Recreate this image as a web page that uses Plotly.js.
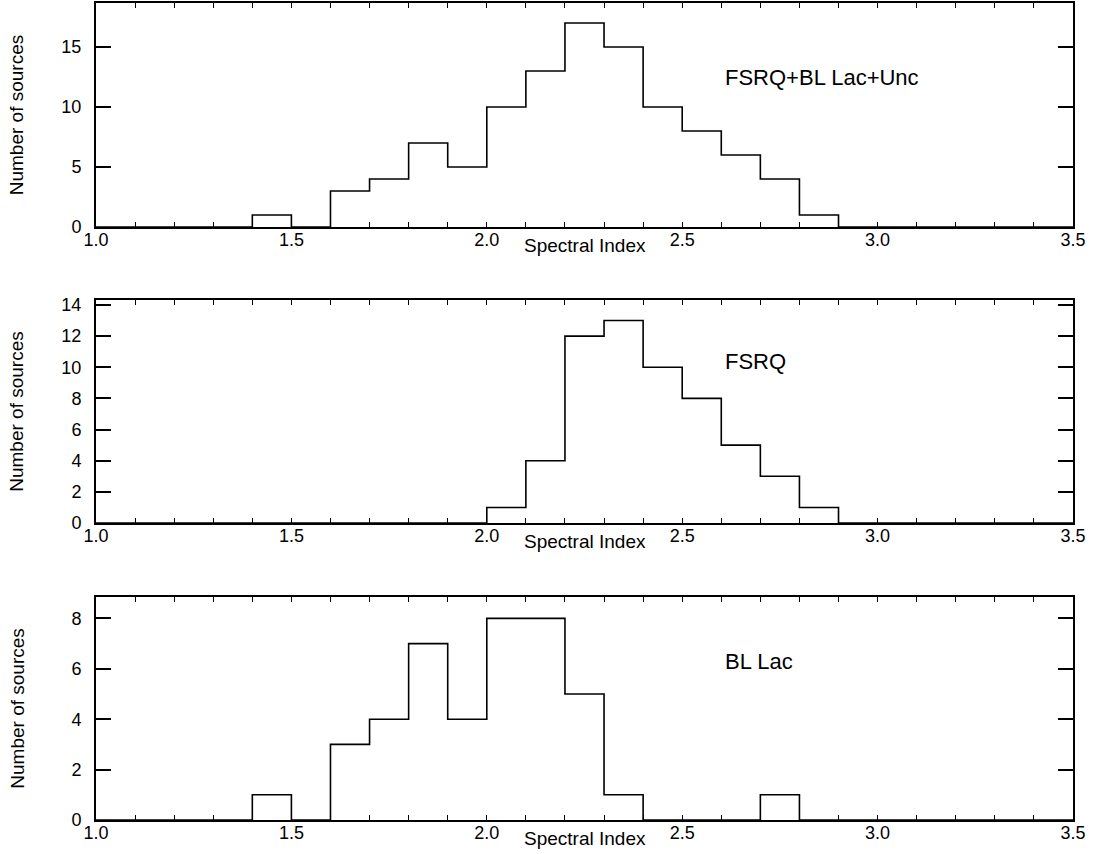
<!DOCTYPE html>
<html>
<head>
<meta charset="utf-8">
<script src="https://cdn.plot.ly/plotly-3.0.1.min.js"></script>
<style>html,body{margin:0;padding:0;background:#fff;}#chart{width:1093px;height:854px;}</style>
</head>
<body>
<div id="chart"></div>
<script>
// Bin edges of spectral index (left edges of 0.1-wide bins, plus final edge)
const binEdges = [1.0,1.1,1.2,1.3,1.4,1.5,1.6,1.7,1.8,1.9,2.0,2.1,2.2,2.3,2.4,2.5,2.6,2.7,2.8,2.9,3.0,3.1,3.2,3.3,3.4,3.5];
// Counts per bin (25 bins), FSRQ+BL Lac+Unc
const countsAll   = [0,0,0,0,1,0,3,4,7,5,10,13,17,15,10,8,6,4,1,0,0,0,0,0,0];
// FSRQ
const countsFSRQ  = [0,0,0,0,0,0,0,0,0,0,1,4,12,13,10,8,5,3,1,0,0,0,0,0,0];
// BL Lac
const countsBLLac = [0,0,0,0,1,0,3,4,7,4,8,8,5,1,0,0,0,1,0,0,0,0,0,0,0];

const panelLabels = ["FSRQ+BL Lac+Unc", "FSRQ", "BL Lac"];
const xTickVals = [1.0,1.5,2.0,2.5,3.0,3.5];
const xTickText = ["1.0","1.5","2.0","2.5","3.0","3.5"];
const xTitle = "Spectral Index";
const yTitle = "Number of sources";

const font = "Liberation Sans, Arial, Helvetica, sans-serif";

function stepTrace(counts, xa, ya) {
  return {
    type: 'scatter', mode: 'lines',
    x: binEdges,
    y: counts.concat([0]),
    line: {shape: 'hv', color: '#000', width: 1.6},
    xaxis: xa, yaxis: ya, hoverinfo: 'x+y', showlegend: false
  };
}

const data = [
  stepTrace(countsAll, 'x', 'y'),
  stepTrace(countsFSRQ, 'x2', 'y2'),
  stepTrace(countsBLLac, 'x3', 'y3')
];

function xAxis(anchor) {
  return {
    anchor: anchor, range: [1.0, 3.5], domain: [0, 1],
    tickvals: xTickVals, ticktext: xTickText,
    ticks: 'inside', ticklen: 5, tickwidth: 1, tickcolor: '#000',
    minor: {dtick: 0.1, tick0: 1.0, ticks: 'inside', ticklen: 5, tickwidth: 1, tickcolor: '#000', showgrid: false},
    showline: true, linewidth: 2, linecolor: '#000', mirror: 'allticks',
    showgrid: false, zeroline: false,
    tickfont: {family: font, size: 18, color: '#000'},
    ticklabelstandoff: -5
  };
}
function yAxis(anchor, domain, top, dtick, standoff) {
  return {
    anchor: anchor, domain: domain, range: [0, top], dtick: dtick, tick0: 0,
    ticks: 'inside', ticklen: 15, tickwidth: 2, tickcolor: '#000',
    showline: true, linewidth: 2, linecolor: '#000', mirror: 'allticks',
    showgrid: false, zeroline: false,
    tickfont: {family: font, size: 18, color: '#000'},
    ticklabelstandoff: 9,
    title: {text: yTitle, font: {family: font, size: 19, color: '#000'}, standoff: standoff}
  };
}

const annFont = {family: font, size: 22, color: '#000'};
const titleFont = {family: font, size: 19, color: '#000'};

const layout = {
  width: 1093, height: 854,
  margin: {l: 96, r: 20, t: 3, b: 34},
  paper_bgcolor: '#fff', plot_bgcolor: '#fff',
  showlegend: false,
  xaxis: xAxis('y'),
  xaxis2: xAxis('y2'),
  xaxis3: xAxis('y3'),
  yaxis: yAxis('x', [0.7258, 1.0], 18.67, 5, 33),
  yaxis2: yAxis('x2', [0.3635, 0.6365], 14.32, 2, 33),
  yaxis3: yAxis('x3', [0.0, 0.273], 8.85, 2, 42),
  annotations: [
    {xref: 'x', yref: 'y', x: 2.604, y: 12.5, text: panelLabels[0], showarrow: false, xanchor: 'left', yanchor: 'middle', font: annFont},
    {xref: 'x2', yref: 'y2', x: 2.604, y: 10.4, text: panelLabels[1], showarrow: false, xanchor: 'left', yanchor: 'middle', font: annFont},
    {xref: 'x3', yref: 'y3', x: 2.604, y: 6.28, text: panelLabels[2], showarrow: false, xanchor: 'left', yanchor: 'middle', font: annFont},
    {xref: 'x domain', yref: 'y domain', x: 0.5, y: 0, yshift: -6, text: xTitle, showarrow: false, xanchor: 'center', yanchor: 'top', font: titleFont},
    {xref: 'x2 domain', yref: 'y2 domain', x: 0.5, y: 0, yshift: -6, text: xTitle, showarrow: false, xanchor: 'center', yanchor: 'top', font: titleFont},
    {xref: 'x3 domain', yref: 'y3 domain', x: 0.5, y: 0, yshift: -6, text: xTitle, showarrow: false, xanchor: 'center', yanchor: 'top', font: titleFont}
  ]
};

Plotly.newPlot('chart', data, layout, {displayModeBar: false, staticPlot: true});
</script>
</body>
</html>
